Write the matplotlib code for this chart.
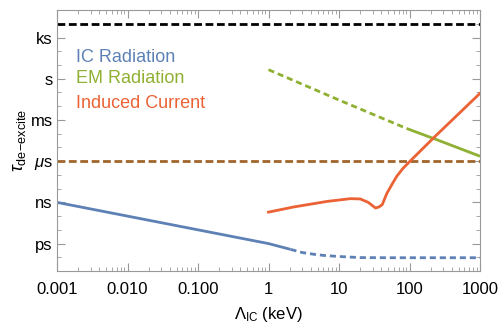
import numpy as np
import matplotlib
matplotlib.use('Agg')
import matplotlib.pyplot as plt

plt.rcParams['font.family'] = ['Liberation Sans', 'DejaVu Sans']
plt.rcParams['mathtext.fontset'] = 'custom'
plt.rcParams['mathtext.rm'] = 'Liberation Sans'
plt.rcParams['mathtext.it'] = 'Liberation Sans:italic'

# data: x in keV, tau given as log10(seconds)
ic_solid_x = [0.001, 0.01, 0.1, 1, 2.05]
ic_solid_logt = [-9.0, -10.0, -11.0, -12.0, -12.42]
ic_dash_x = [2.05, 3, 4.4, 6, 9.3, 14, 20, 50, 100, 1000]
ic_dash_logt = [-12.42, -12.65, -12.78, -12.86, -12.93, -12.98, -13.02, -13.03, -13.03, -13.03]

em_dash_x = [1, 10, 91]
em_dash_logt = [0.66, -1.55, -3.62]
em_solid_x = [91, 220, 1000]
em_solid_logt = [-3.62, -4.35, -5.64]

ind_x = [1, 2.3, 6.8, 14.5, 20, 26, 30, 33, 37, 41, 48, 57, 66, 80, 100, 220, 1000]
ind_logt = [-9.71, -9.33, -8.93, -8.73, -8.75, -9.0, -9.25, -9.41, -9.33, -9.17, -8.32,
            -7.65, -7.1, -6.55, -6.04, -4.3, -1.06]

hubble_logt = 4.0
micro_logt = -6.0

ytick_logt = [-12, -9, -6, -3, 0, 3]
ytick_labels = ['ps', 'ns', r'$\mu$s', 'ms', 's', 'ks']
xticks = [0.001, 0.01, 0.1, 1, 10, 100, 1000]
xtick_labels = ['0.001', '0.010', '0.100', '1', '10', '100', '1000']

blue = '#5E81B5'
green = '#8FB032'
orange = '#EB6235'
brown = '#A0652A'

fig = plt.figure(figsize=(5, 3.25), dpi=100)
ax = fig.add_axes([0.114, 0.166, 0.846, 0.803])

def tau(v):
    return 10.0 ** np.array(v)

ax.axhline(10 ** hubble_logt, color='black', lw=2.0, dashes=(2.8, 1.3))
ax.axhline(10 ** micro_logt, color=brown, lw=2.0, dashes=(2.8, 1.3))

ax.plot(ic_solid_x, tau(ic_solid_logt), color=blue, lw=2.0, solid_capstyle='butt')
ax.plot(ic_dash_x, tau(ic_dash_logt), color=blue, lw=2.0, dashes=(2.2, 1.4))
ax.plot(em_dash_x, tau(em_dash_logt), color=green, lw=2.0, dashes=(2.2, 1.4))
ax.plot(em_solid_x, tau(em_solid_logt), color=green, lw=2.0, solid_capstyle='butt')
ax.plot(ind_x, tau(ind_logt), color=orange, lw=2.0)

ax.set_xscale('log')
ax.set_yscale('log')
ax.set_xlim(0.001, 1000)
ax.set_ylim(1e-14, 1e5)

ax.set_xticks(xticks)
ax.set_xticklabels(xtick_labels)
ax.set_yticks(tau(ytick_logt))
ax.set_yticklabels(ytick_labels)
ax.yaxis.set_minor_locator(matplotlib.ticker.FixedLocator(tau(np.arange(-14, 6))))
ax.yaxis.set_minor_formatter(matplotlib.ticker.NullFormatter())

ax.tick_params(which='both', direction='in', top=True, right=True, colors='#999999',
               labelcolor='black', labelsize=12)
ax.tick_params(which='major', length=6, width=0.8)
ax.tick_params(which='minor', length=3, width=0.6)
ax.tick_params(axis='x', pad=8)
ax.tick_params(axis='y', pad=3)
for s in ax.spines.values():
    s.set_color('#999999')

ax.set_xlabel(r'$\Lambda_{\mathrm{IC}}$ (keV)', fontsize=12, labelpad=6)
ax.set_ylabel(r'$\tau_{\mathrm{de\!-\!excite}}$', fontsize=13, labelpad=2)

ax.text(0.045, 0.801, 'IC Radiation', color=blue, fontsize=13, transform=ax.transAxes, va='baseline')
ax.text(0.045, 0.72, 'EM Radiation', color=green, fontsize=13, transform=ax.transAxes, va='baseline')
ax.text(0.045, 0.623, 'Induced Current', color=orange, fontsize=13, transform=ax.transAxes, va='baseline')

fig.savefig('out.png', dpi=100)
